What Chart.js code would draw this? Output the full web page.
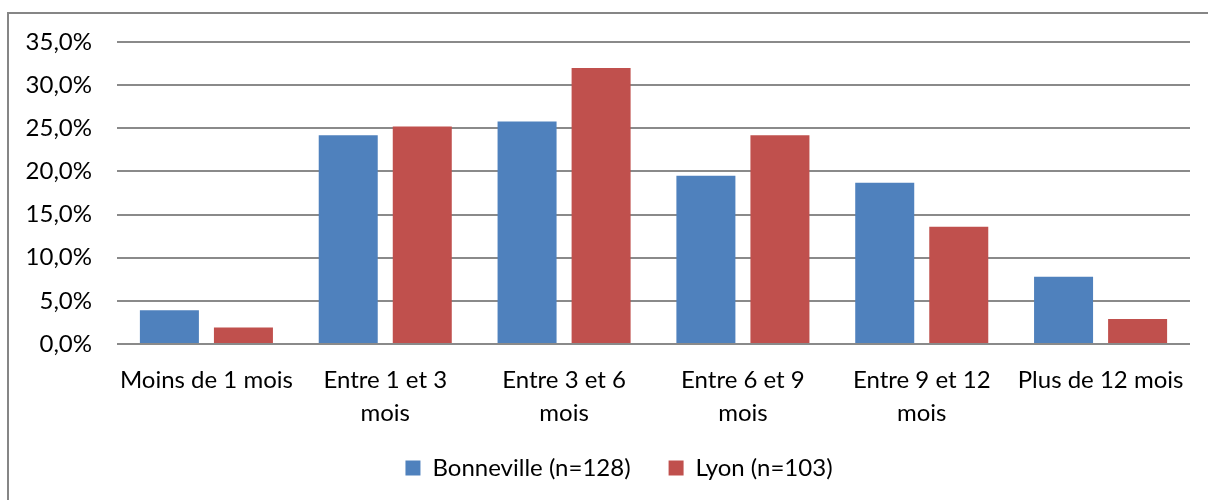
<!DOCTYPE html>
<html>
<head>
<meta charset="utf-8">
<script src="https://cdn.jsdelivr.net/npm/chart.js@4"></script>
<style>
  html, body { margin: 0; padding: 0; background: #fff; }
  #wrap { position: relative; width: 1208px; height: 500px; overflow: hidden; }
  #frame { position: absolute; left: 7px; top: 12px; width: 1300px; height: 600px; border: 2px solid #868686; }
  canvas { position: absolute; left: 0; top: 0; }
</style>
</head>
<body>
<div id="wrap">
  <div id="frame"></div>
  <canvas id="chart" width="1208" height="500"></canvas>
</div>
<script>
const categories = ["Moins de 1 mois", ["Entre 1 et 3", "mois"], ["Entre 3 et 6", "mois"], ["Entre 6 et 9", "mois"], ["Entre 9 et 12", "mois"], "Plus de 12 mois"];
const bonneville = [3.9, 24.2, 25.8, 19.5, 18.7, 7.8];
const lyon = [1.9, 25.2, 32.0, 24.2, 13.6, 2.9];
const yTicks = [0, 5, 10, 15, 20, 25, 30, 35];

const fontFamily = "Lato, 'Open Sans', sans-serif";

// move the legend a bit right and up, as in the original
const legendShift = {
  id: 'legendShift',
  afterLayout(chart) {
    const lg = chart.legend;
    if (lg) {
      lg.left += 24; lg.right += 24;
      lg.top -= 10; lg.bottom -= 10;
    }
  }
};

new Chart(document.getElementById('chart').getContext('2d'), {
  type: 'bar',
  data: {
    labels: categories,
    datasets: [
      { label: 'Bonneville (n=128)', data: bonneville, backgroundColor: '#4F81BD', borderWidth: 0 },
      { label: 'Lyon (n=103)', data: lyon, backgroundColor: '#C0504D', borderWidth: 0 }
    ]
  },
  plugins: [legendShift],
  options: {
    responsive: false,
    animation: false,
    categoryPercentage: 0.828,
    barPercentage: 0.797,
    layout: { padding: { top: 42, left: 0, right: 18, bottom: 0 } },
    plugins: {
      legend: {
        position: 'bottom',
        labels: {
          boxWidth: 15, boxHeight: 15, padding: 38, color: '#000',
          font: { family: fontFamily, size: 24 }
        }
      },
      tooltip: { enabled: false }
    },
    scales: {
      x: {
        grid: { display: false },
        border: { display: false },
        ticks: {
          color: '#000', padding: 12, maxRotation: 0, autoSkip: false,
          font: { family: fontFamily, size: 24, lineHeight: '33px' }
        },
        afterFit: s => { s.height = 84; }
      },
      y: {
        min: 0, max: 35,
        afterBuildTicks: s => { s.ticks = yTicks.map(v => ({ value: v })); },
        grid: { color: '#8a8a8a', lineWidth: 2, drawTicks: false },
        border: { display: false },
        ticks: {
          color: '#000', padding: 25,
          font: { family: fontFamily, size: 24 },
          callback: v => v.toFixed(1).replace('.', ',') + '%'
        },
        afterFit: s => { s.width = 117; }
      }
    }
  }
});
</script>
</body>
</html>
